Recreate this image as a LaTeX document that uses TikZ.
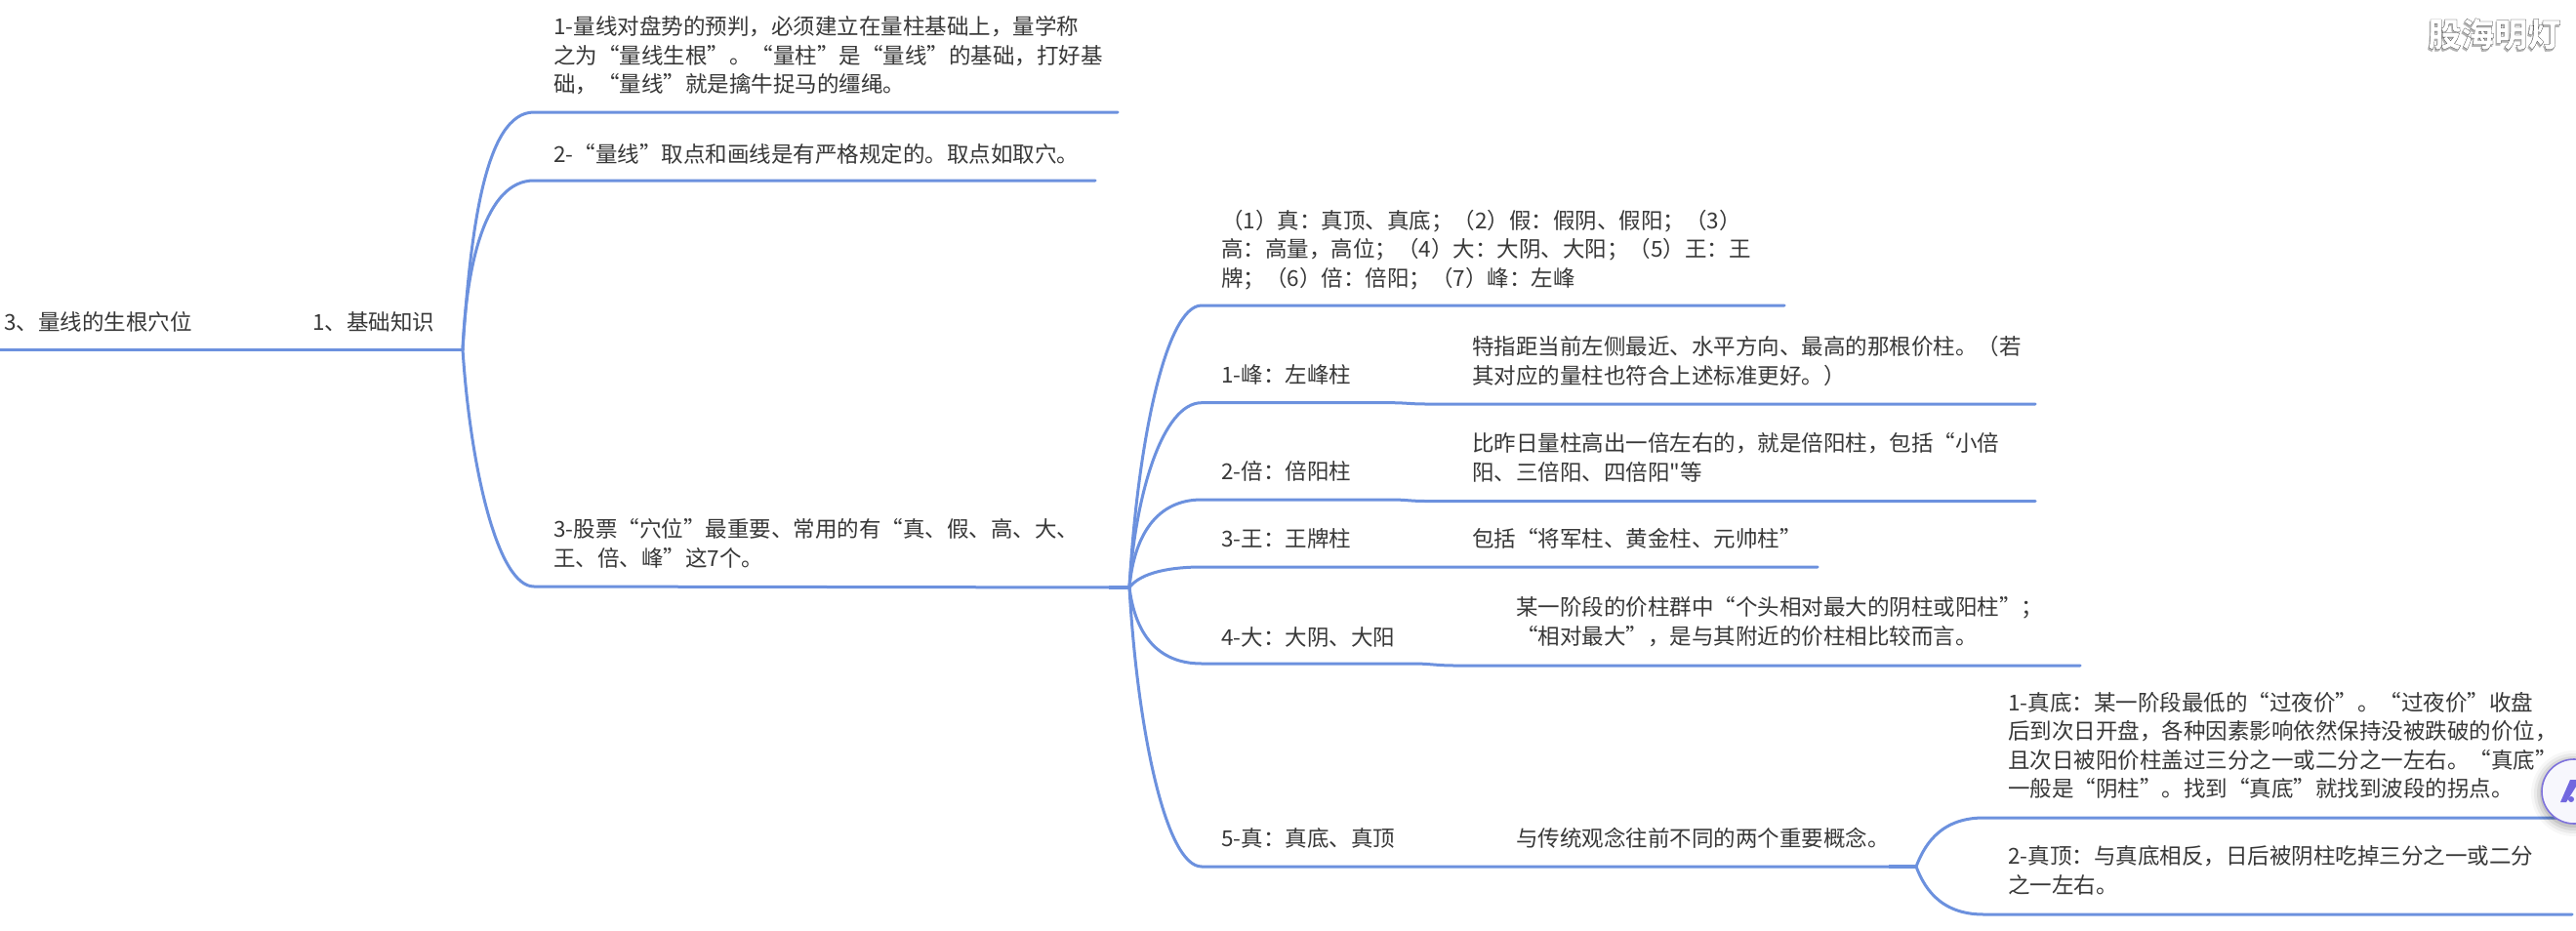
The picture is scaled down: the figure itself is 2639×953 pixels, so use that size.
\documentclass[tikz,border=0pt]{standalone}
\usepackage{fontspec}
\setmainfont{Noto Sans CJK SC}
\newfontfamily\cjkfont{Noto Sans CJK SC}
\newfontfamily\wmfont{Noto Sans CJK SC}[BoldFeatures={FakeBold=0.6}]
\definecolor{linkblue}{HTML}{6C91DE}
\definecolor{inkgray}{HTML}{383838}
\definecolor{ringviolet}{HTML}{7E72DC}
\tikzset{
  x=1pt,y=-1pt,
  link/.style={draw=linkblue,line width=3pt,line cap=round},
  joint/.style={draw=linkblue,line width=3.8pt},
  txt/.style={anchor=west,align=left,inner sep=0pt,yshift=-2.6pt,text=inkgray,
    font=\cjkfont\fontsize{22.5}{29.5}\selectfont,
    execute at begin node=\strut,execute at end node=\strut},
}
\begin{document}
\begin{tikzpicture}
\fill[white] (0,0) rectangle (2639,953);
\clip (0,0) rectangle (2639,953);
% anchors
\coordinate (rootL) at (0,358);
\coordinate (j1) at (474,358);
\coordinate (a1) at (547,115);   \coordinate (a1e) at (1145,115);
\coordinate (a2) at (547,185);   \coordinate (a2e) at (1122,185);
\coordinate (a3) at (547,601);   \coordinate (j2) at (1157,602); \coordinate (j2a) at (1136,602);
\coordinate (b0) at (1231,313);  \coordinate (b0e) at (1828,313);
\coordinate (b1) at (1231,412.7);\coordinate (b1m) at (1425,412.7); \coordinate (b1n) at (1460,414); \coordinate (b1e) at (2085,414);
\coordinate (b2) at (1231,512);  \coordinate (b2m) at (1425,512);   \coordinate (b2n) at (1460,513.5); \coordinate (b2e) at (2085,513.5);
\coordinate (b3) at (1231,581);  \coordinate (b3e) at (1862,581);
\coordinate (b4) at (1231,680);  \coordinate (b4m) at (1447,680);   \coordinate (b4n) at (1490,682); \coordinate (b4e) at (2131,682);
\coordinate (b5) at (1231,888);  \coordinate (j3) at (1963,888); \coordinate (j3a) at (1935,888);
\coordinate (c1) at (2032,838);  \coordinate (c1e) at (2625,838);
\coordinate (c2) at (2032,937);  \coordinate (c2e) at (2635,937);
% connectors
\draw[link] (rootL) -- (j1);
\draw[link] (j1) .. controls +(8,-122) and +(-50,0) .. (a1) -- (a1e);
\draw[link] (j1) .. controls +(4,-87) and +(-50,0) .. (a2) -- (a2e);
\draw[link] (j1) .. controls +(8,122) and +(-37,0) .. (a3) -- (j2);
\draw[link] (j2) .. controls +(8,-145) and +(-37,0) .. (b0) -- (b0e);
\draw[link] (j2) .. controls +(6,-95) and +(-40,0) .. (b1) -- (b1m) .. controls +(15,0) and +(-15,0) .. (b1n) -- (b1e);
\draw[link] (j2) .. controls +(5,-55) and +(-45,0) .. (b2) -- (b2m) .. controls +(15,0) and +(-15,0) .. (b2n) -- (b2e);
\draw[link] (j2) .. controls +(12,-16) and +(-30,0) .. (b3) -- (b3e);
\draw[link] (j2) .. controls +(6,48) and +(-45,0) .. (b4) -- (b4m) .. controls +(18,0) and +(-18,0) .. (b4n) -- (b4e);
\draw[link] (j2) .. controls +(8,143) and +(-37,0) .. (b5) -- (j3);
\draw[link] (j3) .. controls +(7,-18) and +(-47,0) .. (c1) -- (c1e);
\draw[link] (j3) .. controls +(7,18) and +(-47,0) .. (c2) -- (c2e);
\draw[joint] (j2a) -- (j2);
\draw[joint] (j3a) -- (j3);
% texts
\node[txt] (root) at (4,330) {3、量线的生根穴位};
\node[txt] (base) at (320,330) {1、基础知识};
\node[txt] (t1) at (567,57.5) {1-量线对盘势的预判，必须建立在量柱基础上，量学称\\之为“量线生根”。“量柱”是“量线”的基础，打好基\\础，“量线”就是擒牛捉马的缰绳。};
\node[txt] (t2) at (567,158) {2-“量线”取点和画线是有严格规定的。取点如取穴。};
\node[txt] (t3) at (567,558) {3-股票“穴位”最重要、常用的有“真、假、高、大、\\王、倍、峰”这7个。};
\node[txt] (s0) at (1251,256) {（1）真：真顶、真底；（2）假：假阴、假阳；（3）\\高：高量，高位；（4）大：大阴、大阳；（5）王：王\\牌；（6）倍：倍阳；（7）峰：左峰};
\node[txt] (s1) at (1251,384) {1-峰：左峰柱};
\node[txt] (s2) at (1251,483) {2-倍：倍阳柱};
\node[txt] (s3) at (1251,552) {3-王：王牌柱};
\node[txt] (s4) at (1251,653) {4-大：大阴、大阳};
\node[txt] (s5) at (1251,859) {5-真：真底、真顶};
\node[txt] (d1) at (1508,370.5) {特指距当前左侧最近、水平方向、最高的那根价柱。（若\\其对应的量柱也符合上述标准更好。）};
\node[txt] (d2) at (1508,470) {比昨日量柱高出一倍左右的，就是倍阳柱，包括“小倍\\阳、三倍阳、四倍阳"等};
\node[txt] (d3) at (1508,552) {包括“将军柱、黄金柱、元帅柱”};
\node[txt] (d4) at (1553,638) {某一阶段的价柱群中“个头相对最大的阴柱或阳柱”；\\“相对最大”，是与其附近的价柱相比较而言。};
\node[txt] (d5) at (1553,859) {与传统观念往前不同的两个重要概念。};
\node[txt] (e1) at (2057,765) {1-真底：某一阶段最低的“过夜价”。“过夜价”收盘\\后到次日开盘，各种因素影响依然保持没被跌破的价位，\\且次日被阳价柱盖过三分之一或二分之一左右。“真底”\\一般是“阴柱”。找到“真底”就找到波段的拐点。};
\node[txt] (e2) at (2057,893) {2-真顶：与真底相反，日后被阴柱吃掉三分之一或二分\\之一左右。};
% floating badge
\foreach \r/\o in {44/.03,41/.05,38/.07,35/.09}{\fill[black,opacity=\o] (2637,813) circle (\r);}
\draw[ringviolet,line width=1.6pt,fill=white!94!ringviolet] (2637,811) circle (33);
\fill[ringviolet!90!blue] (2623,822) -- (2633,799) -- (2639,799) -- (2639,806) -- (2629,822) -- cycle;
\fill[ringviolet!90!blue] (2634,819) circle (3);
% watermark
\node[inner sep=0pt,text=gray!60,font=\wmfont\bfseries\fontsize{34}{34}\selectfont] (wmshadow) at (2554.5,37) {股海明灯};
\node[inner sep=0pt,font=\wmfont\bfseries\fontsize{34}{34}\selectfont] (wm) at (2555.5,35) {\special{pdf:bc [1] [0.2]}股海明灯\special{pdf:ec}};
\end{tikzpicture}
\end{document}
